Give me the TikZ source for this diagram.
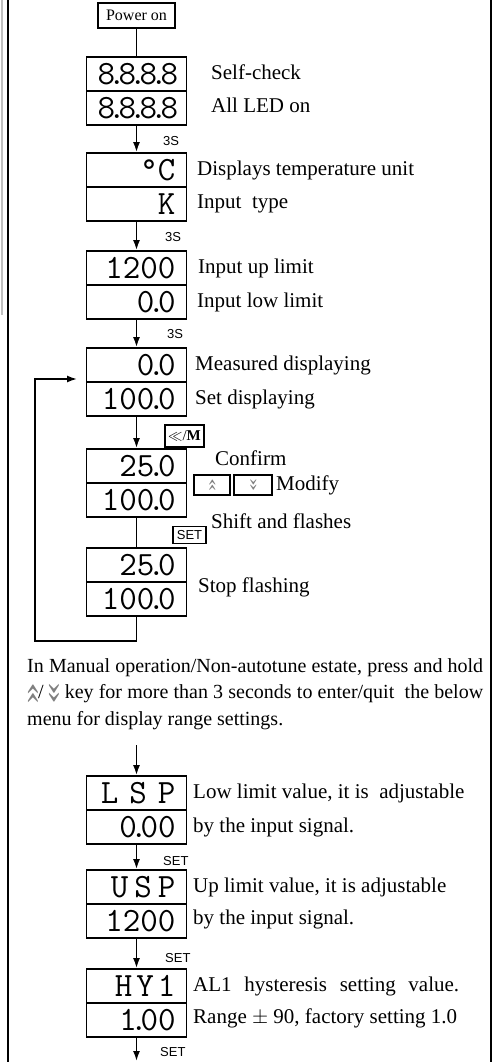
\documentclass[tikz,border=0pt]{standalone}
\usepackage{graphicx}
\usepackage{fontspec}
\setmainfont{Liberation Serif}
\setsansfont{Liberation Sans}
\usetikzlibrary{arrows.meta}

\newcommand{\lcdfont}{\ttfamily\fontsize{34}{34}\selectfont}
\newcommand{\segdot}{\kern-7pt.\kern-7pt}
\newcommand{\dblup}{{\color{gray}\rotatebox[origin=c]{-90}{\scalebox{2.2}[1.3]{«}}}}
\newcommand{\dbldown}{{\color{gray}\rotatebox[origin=c]{-90}{\scalebox{2.2}[1.3]{»}}}}

\begin{document}
\begin{tikzpicture}[x=1pt, y=-1pt,
  disp/.style={draw, line width=1.8pt, minimum width=100pt, minimum height=34pt,
    inner sep=0pt, text width=78pt, align=right, font=\lcdfont},
  keybox/.style={draw, line width=1.4pt, inner sep=0pt},
  note/.style={anchor=west, inner sep=0pt, font=\fontsize{21}{24}\selectfont},
  tlabel/.style={anchor=west, inner sep=0pt, font=\sffamily\fontsize{13}{13}\selectfont},
  flow/.style={line width=1.6pt, -{Latex[length=10pt,width=7pt]}},
  link/.style={line width=1.6pt}]
  \useasboundingbox (0,0) rectangle (501,1062);
  % frame lines
  \draw[gray!50, line width=2pt] (1.5,0) -- (1.5,315);
  \draw[line width=2.2pt] (8,0) -- (8,1062);
  \draw[line width=2.2pt] (491,0) -- (491,1062);

  % power on and self-check
  \node[draw, line width=1.6pt, minimum width=77pt, minimum height=25pt, inner sep=0pt,
    font=\fontsize{16}{16}\selectfont] (power) at (136.5,15.5) {Power on};
  \node[disp] (chkA) at (136.5,74) {8\segdot8\segdot8\segdot8};
  \node[disp] (chkB) at (136.5,108) {8\segdot8\segdot8\segdot8};
  \node[note] (chkT1) at (211,72) {Self-check};
  \node[note] (chkT2) at (211,105) {All LED on};
  \draw[link] (power) -- (chkA);

  % unit and input type
  \node[disp] (unitA) at (136.5,170) {°C};
  \node[disp] (unitB) at (136.5,204) {K};
  \node[note] (unitT1) at (197,170) {Displays temperature unit};
  \node[note] (unitT2) at (197,204) {Input\ \ type};
  \draw[flow] (chkB) -- (unitA);
  \node[tlabel] (sec1) at (163,141) {3S};

  % range limits
  \node[disp] (limA) at (136.5,268) {1200};
  \node[disp] (limB) at (136.5,302) {0\segdot0};
  \node[note] (limT1) at (198,268) {Input up limit};
  \node[note] (limT2) at (197,302) {Input low limit};
  \draw[flow] (unitB) -- (limA);
  \node[tlabel] (sec2) at (165,237) {3S};

  % measured / set value
  \node[disp] (measA) at (136.5,365) {0\segdot0};
  \node[disp] (measB) at (136.5,399) {100\segdot0};
  \node[note] (measT1) at (195,365) {Measured displaying};
  \node[note] (measT2) at (195,399) {Set displaying};
  \draw[flow] (limB) -- (measA);
  \node[tlabel] (sec3) at (167,334) {3S};

  % modify
  \node[keybox, minimum width=39pt, minimum height=22pt] (keyM) at (184.5,436)
    {\fontsize{15}{15}\selectfont$\ll$/\textbf{M}};
  \node[disp] (modA) at (136.5,466) {25\segdot0};
  \node[disp] (modB) at (136.5,500) {100\segdot0};
  \draw[flow] (measB) -- (modA);
  \node[note] (modT1) at (215,458) {Confirm};
  \node[keybox, minimum width=36pt, minimum height=20pt, font=\fontsize{12}{12}\selectfont] (keyUp) at (212,485) {\dblup};
  \node[keybox, minimum width=38pt, minimum height=20pt, font=\fontsize{12}{12}\selectfont] (keyDn) at (253,485) {\dbldown};
  \node[note] (modT2) at (276,485) {Modify};

  % shift and stop
  \node[keybox, minimum width=33pt, minimum height=17pt, font=\sffamily\fontsize{13}{13}\selectfont] (keySet) at (189.5,535) {SET};
  \node[note] (stopT0) at (211,521) {Shift and flashes};
  \node[disp] (stopA) at (136.5,565) {25\segdot0};
  \node[disp] (stopB) at (136.5,599) {100\segdot0};
  \node[note] (stopT1) at (198,587) {Stop flashing};
  \draw[link] (modB) -- (stopA);

  % back to the measured display
  \coordinate (loopA) at (stopB.south |- 0,641);
  \coordinate (loopB) at (35,641);
  \coordinate (loopC) at (35,379);
  \coordinate (loopD) at (77,379);
  \draw[flow, line join=miter] (stopB) -- (loopA) -- (loopB) -- (loopC) -- (loopD);

  % range menu
  \node[anchor=north west, inner sep=0pt, align=left, font=\fontsize{20}{26.5}\selectfont] (para) at (27,658)
    {\makebox[456pt][s]{In Manual operation/Non-autotune estate, press and hold}\\
     \makebox[456pt][s]{\dblup/ \dbldown\ key for more than 3 seconds to enter/quit\ \ the below}\\
     menu for display range settings.};
  \coordinate (menuIn) at (136.5,745);

  \node[disp] (lspA) at (136.5,793) {L\hspace{11pt}S\hspace{11pt}P};
  \node[disp] (lspB) at (136.5,827) {0\segdot00};
  \node[note] (lspT1) at (193,793) {Low limit value, it is\ \ adjustable};
  \node[note] (lspT2) at (193,827) {by the input signal.};
  \draw[flow] (menuIn) -- (lspA);

  \node[disp] (uspA) at (136.5,887) {U\hspace{6pt}S\hspace{6pt}P};
  \node[disp] (uspB) at (136.5,921) {1200};
  \node[note] (uspT1) at (193,887) {Up limit value, it is adjustable};
  \node[note] (uspT2) at (193,919) {by the input signal.};
  \draw[flow] (lspB) -- (uspA);
  \node[tlabel] (set1) at (163,861) {SET};

  \node[disp] (hyA) at (136.5,986) {H\hspace{4pt}Y\hspace{4pt}1};
  \node[disp] (hyB) at (136.5,1020) {1\segdot00};
  \node[note] (hyT1) at (193,986) {\makebox[266pt][s]{AL1 hysteresis setting value.}};
  \node[note] (hyT2) at (193,1018) {Range $\pm$ 90, factory setting 1.0};
  \draw[flow] (uspB) -- (hyA);
  \node[tlabel] (set2) at (165,958) {SET};

  \coordinate (tail) at (136.5,1061);
  \draw[flow] (hyB) -- (tail);
  \node[tlabel] (set3) at (160,1052) {SET};
\end{tikzpicture}
\end{document}
